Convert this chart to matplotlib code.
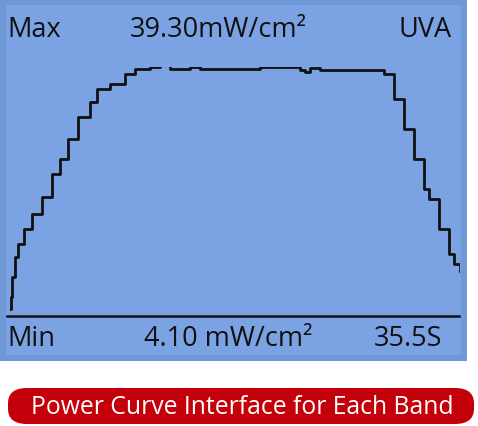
import matplotlib
matplotlib.use('Agg')
import matplotlib.pyplot as plt
from matplotlib.patches import Rectangle, FancyBboxPatch

plt.rcParams['font.family'] = ['Open Sans', 'DejaVu Sans']

# curve: time in s, power in mW/cm2
t = [0.0, 0.08, 0.16, 0.39, 0.63, 1.1, 1.74, 2.52, 3.31, 3.94, 4.58, 5.36, 6.31, 6.86, 7.89,
     9.07, 9.86, 11.04, 11.83, 12.62, 14.2, 14.99, 18.14, 19.72, 22.88, 23.27, 23.67, 24.46,
     28.96, 29.51, 30.3, 31.09, 31.88, 32.67, 33.07, 33.86, 34.65, 35.04, 35.5]
p = [1.26, 3.14, 6.29, 9.43, 11.48, 13.83, 16.19, 18.86, 22.48, 24.84, 27.98, 31.44, 33.8,
     35.85, 36.63, 38.2, 38.99, 39.3, 39.62, 38.99, 39.3, 38.99, 38.99, 39.3, 38.83, 38.52,
     39.15, 38.83, 38.83, 38.2, 34.27, 29.55, 24.84, 20.12, 18.55, 13.83, 9.9, 8.33, 7.23]

fig = plt.figure(figsize=(4.78, 4.27), dpi=100)
W, H = 478, 427

def fx(x):
    return x / W

def fy(y):
    return 1 - y / H

fig.patches.append(Rectangle((fx(0), fy(362)), fx(467), 362 / H, transform=fig.transFigure,
                             facecolor='#6f98d6', edgecolor='none', zorder=0))
fig.patches.append(Rectangle((fx(6), fy(356)), fx(455), 350 / H, transform=fig.transFigure,
                             facecolor='#7ba3e3', edgecolor='none', zorder=0))

ax = fig.add_axes([fx(10), fy(318), fx(450), 250 / H])
ax.set_zorder(5)
ax.patch.set_visible(False)
ax.step(t, p, where='post', color='#111111', lw=2)
ax.set_xlim(0, 35.5)
ax.set_ylim(0, 39.3)
ax.axis('off')

# bottom separator
fig.add_artist(plt.Line2D([fx(7), fx(459)], [fy(317), fy(317)], color='#111111', lw=1.8))

kw = dict(fontsize=19.5, color='#111111', va='center')
fig.text(fx(7), fy(30), 'Max', ha='left', **kw)
fig.text(fx(218), fy(30), '39.30mW/cm²', ha='center', **kw)
fig.text(fx(452), fy(30), 'UVA', ha='right', **kw)
fig.text(fx(7), fy(339), 'Min', ha='left', **kw)
fig.text(fx(228), fy(339), '4.10 mW/cm²', ha='center', **kw)
fig.text(fx(442), fy(339), '35.5S', ha='right', **kw)

fig.patches.append(FancyBboxPatch((fx(8), fy(425)), fx(466), 36 / H,
                                  boxstyle='round,pad=0,rounding_size=0.04',
                                  mutation_aspect=H / W, transform=fig.transFigure,
                                  facecolor='#c4000b', edgecolor='none'))
fig.text(fx(242), fy(408), 'Power Curve Interface for Each Band', ha='center', va='center',
         fontsize=17.8, color='white')

fig.savefig('out.png', dpi=100)
